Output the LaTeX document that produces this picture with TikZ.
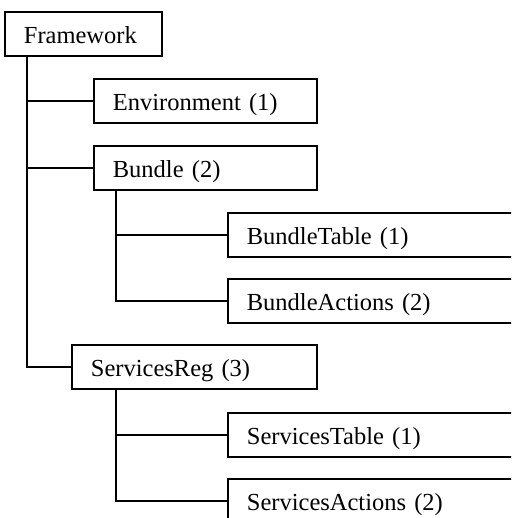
\documentclass[tikz,border=0pt]{standalone}
\usepackage{fontspec}
\setmainfont{Liberation Serif}
\begin{document}
\begin{tikzpicture}[x=1pt,y=-1pt,
  box/.style={draw, line width=1.8pt, anchor=north west, inner ysep=0pt, inner xsep=19pt,
    minimum height=44pt, text height=32pt, text depth=12pt, align=left,
    font=\fontsize{24.5}{29}\selectfont},
  link/.style={line width=1.8pt}]
\useasboundingbox (0,0) rectangle (511,518);
\clip (0,0) rectangle (511,518);
\fill[white] (0,0) rectangle (511,518);
\node[box, text width=119pt] (fw) at (4,11) {Framework};
\node[box, text width=185pt] (env) at (93,78) {Environment (1)};
\node[box, text width=185pt] (bun) at (93,145) {Bundle (2)};
\node[box, text width=250pt] (btab) at (227,212) {BundleTable (1)};
\node[box, text width=250pt] (bact) at (227,278) {BundleActions (2)};
\node[box, text width=207pt] (sreg) at (71,344) {ServicesReg (3)};
\node[box, text width=250pt] (stab) at (227,412) {ServicesTable (1)};
\node[box, text width=250pt] (sact) at (227,478) {ServicesActions (2)};
\draw[link] ([xshift=23pt]fw.south west) |- (env.west);
\draw[link] ([xshift=23pt]fw.south west) |- (bun.west);
\draw[link] ([xshift=23pt]fw.south west) |- (sreg.west);
\draw[link] ([xshift=23pt]bun.south west) |- (btab.west);
\draw[link] ([xshift=23pt]bun.south west) |- (bact.west);
\draw[link] ([xshift=45pt]sreg.south west) |- (stab.west);
\draw[link] ([xshift=45pt]sreg.south west) |- (sact.west);
\end{tikzpicture}
\end{document}
